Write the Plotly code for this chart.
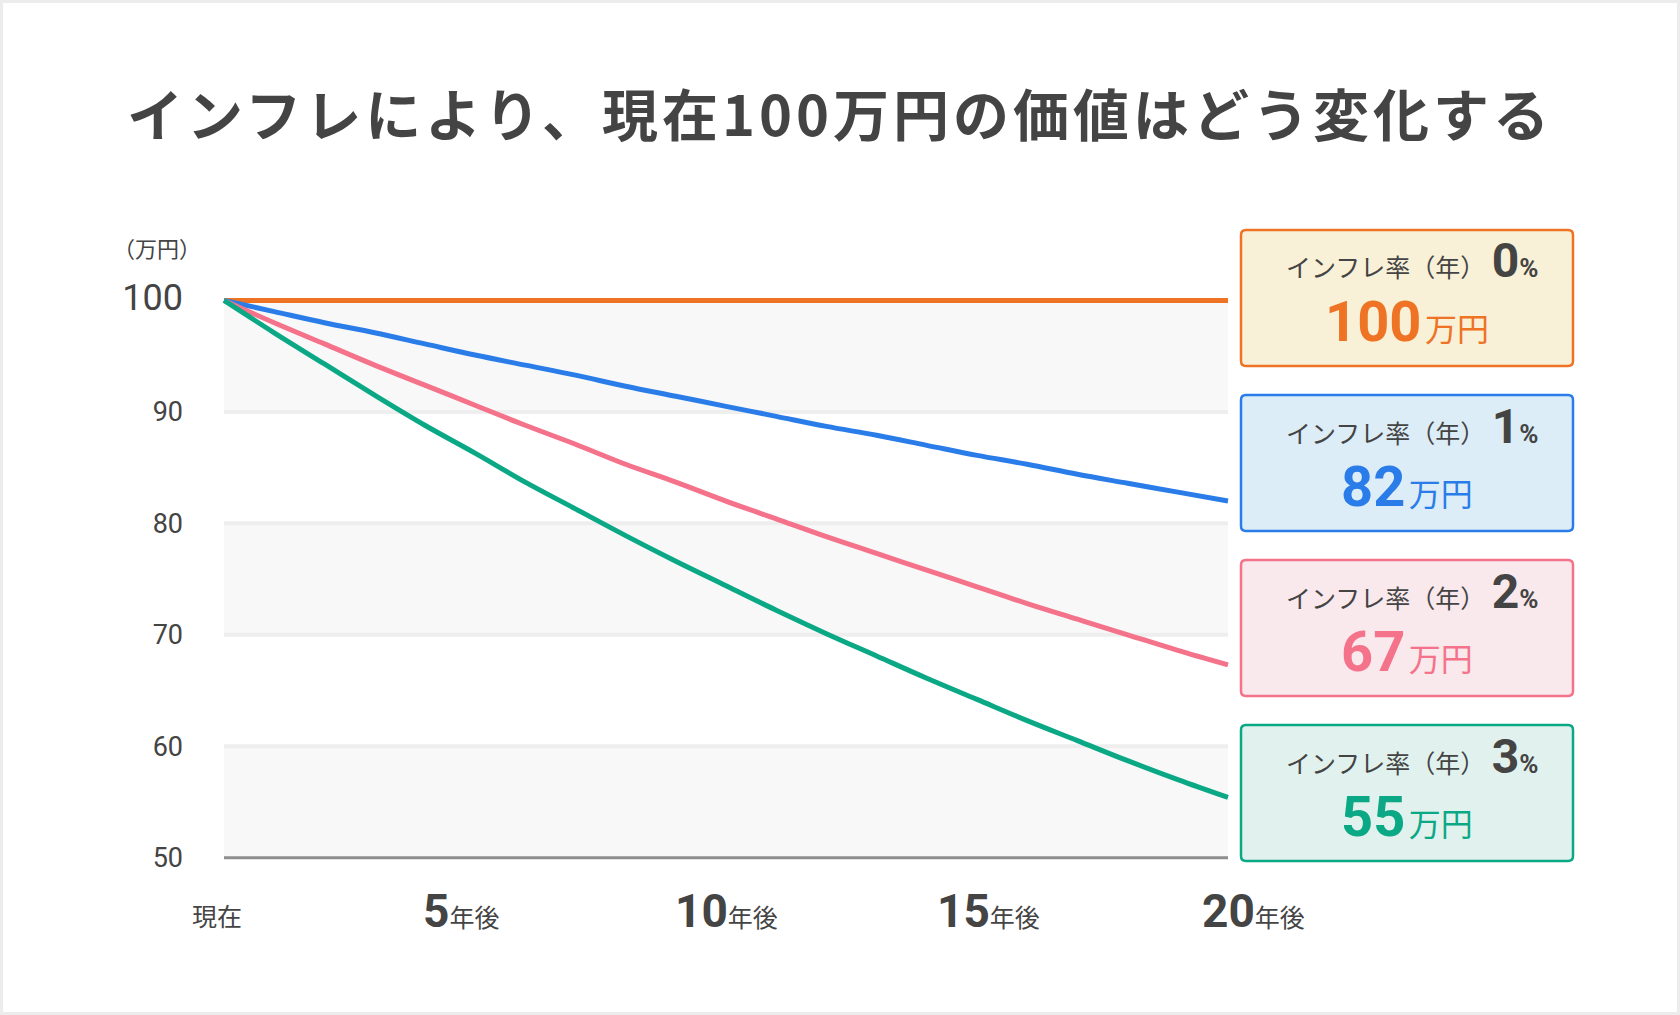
import plotly.graph_objects as go

W, H = 1680, 1015
ML, MR, MT, MB = 219, 447, 296, 154

TEXT = "#444444"
JP = "Noto Sans CJK JP"
NUM = "Roboto, sans-serif"

years = [0, 1, 2, 3, 4, 5, 6, 7, 8, 9, 10, 11, 12, 13, 14, 15, 16, 17, 18, 19, 20]
rate0 = [100.0, 100.0, 100.0, 100.0, 100.0, 100.0, 100.0, 100.0, 100.0, 100.0, 100.0,
         100.0, 100.0, 100.0, 100.0, 100.0, 100.0, 100.0, 100.0, 100.0, 100.0]
rate1 = [100.0, 99.0, 98.0, 97.1, 96.1, 95.1, 94.2, 93.3, 92.3, 91.4, 90.5,
         89.6, 88.7, 87.9, 87.0, 86.1, 85.3, 84.4, 83.6, 82.8, 82.0]
rate2 = [100.0, 98.0, 96.1, 94.2, 92.4, 90.6, 88.8, 87.1, 85.3, 83.7, 82.0,
         80.4, 78.8, 77.3, 75.8, 74.3, 72.8, 71.4, 70.0, 68.6, 67.3]
rate3 = [100.0, 97.1, 94.3, 91.5, 88.8, 86.3, 83.7, 81.3, 78.9, 76.6, 74.4,
         72.2, 70.1, 68.1, 66.1, 64.2, 62.3, 60.5, 58.7, 57.0, 55.4]

rate_labels = ["0", "1", "2", "3"]
value_labels = ["100", "82", "67", "55"]
y_ticks = [50, 60, 70, 80, 90, 100]
x_ticks = [0, 5, 10, 15, 20]
x_tick_nums = ["", "5", "10", "15", "20"]

line_colors = ["#ee7324", "#2a7de8", "#f4728a", "#0aa885"]
box_fills = ["#f9f1d7", "#dcedf8", "#f9e8ec", "#e1f2ee"]
x_shifts = [-7, -14, 0, 12, 26]


def px_x(p):
    return (p - ML) / (W - ML - MR)


def px_y(p):
    return (H - MB - p) / (H - MT - MB)


def span(s, size, color=TEXT, bold=False, family=NUM, extra=""):
    w = "bold" if bold else "normal"
    return (f"<span style='font-family:{family}; font-size:{size}px; "
            f"font-weight:{w}; fill:{color};{extra}'>{s}</span>")


def round_box(x0, y0, x1, y1, r=5):
    # rounded rectangle path in paper coords, corners given in pixels
    pts = [
        f"M {px_x(x0 + r)} {px_y(y0)}",
        f"L {px_x(x1 - r)} {px_y(y0)}",
        f"Q {px_x(x1)} {px_y(y0)} {px_x(x1)} {px_y(y0 + r)}",
        f"L {px_x(x1)} {px_y(y1 - r)}",
        f"Q {px_x(x1)} {px_y(y1)} {px_x(x1 - r)} {px_y(y1)}",
        f"L {px_x(x0 + r)} {px_y(y1)}",
        f"Q {px_x(x0)} {px_y(y1)} {px_x(x0)} {px_y(y1 - r)}",
        f"L {px_x(x0)} {px_y(y0 + r)}",
        f"Q {px_x(x0)} {px_y(y0)} {px_x(x0 + r)} {px_y(y0)}",
        "Z",
    ]
    return " ".join(pts)


fig = go.Figure()

for vals, col in zip([rate0, rate1, rate2, rate3], line_colors):
    fig.add_trace(go.Scatter(
        x=years, y=vals, mode="lines",
        line=dict(color=col, width=5, shape="spline"),
        hoverinfo="skip", showlegend=False,
    ))

shapes = []
# outer frame
shapes.append(dict(type="rect", xref="paper", yref="paper",
                   x0=px_x(0), x1=px_x(W), y0=px_y(H), y1=px_y(0),
                   line=dict(color="#ececec", width=6), fillcolor="rgba(0,0,0,0)",
                   layer="below"))
# alternating bands
for lo in y_ticks[0::2]:
    shapes.append(dict(type="rect", xref="x", yref="y", x0=x_ticks[0], x1=x_ticks[-1],
                       y0=lo, y1=lo + 10, fillcolor="#f8f8f8", line=dict(width=0),
                       layer="below"))
for yv in y_ticks[1:-1]:
    shapes.append(dict(type="line", xref="x", yref="y", x0=x_ticks[0], x1=x_ticks[-1],
                       y0=yv, y1=yv, line=dict(color="#eeeeee", width=4), layer="below"))
shapes.append(dict(type="line", xref="x", yref="y", x0=x_ticks[0], x1=x_ticks[-1],
                   y0=y_ticks[0], y1=y_ticks[0], line=dict(color="#8e8e8e", width=3),
                   layer="below"))

annotations = []
# legend boxes
box_x0, box_x1 = 1241, 1573
for i, (rl, vl, col, fill) in enumerate(zip(rate_labels, value_labels, line_colors, box_fills)):
    top = 230 + i * 165
    shapes.append(dict(type="path", xref="paper", yref="paper",
                       path=round_box(box_x0, top, box_x1, top + 136),
                       fillcolor=fill, line=dict(color=col, width=2.5)))
    cx = px_x((box_x0 + box_x1) / 2)
    line1 = (span("インフレ率（年）", 25, family=JP) + span(" ", 26)
             + span(rl, 48, bold=True) + span("%", 26, bold=True))
    annotations.append(dict(xref="paper", yref="paper", x=cx + px_x(5) - px_x(0),
                            y=px_y(top + 31), text=line1, showarrow=False,
                            xanchor="center", yanchor="middle",
                            font=dict(family=JP, size=25, color=TEXT)))
    line2 = (span(vl, 56, color=col, bold=True) + span(" ", 14)
             + span("万円", 32, color=col, family=JP))
    annotations.append(dict(xref="paper", yref="paper", x=cx, y=px_y(top + 92),
                            text=line2, showarrow=False, xanchor="center", yanchor="middle",
                            font=dict(family=JP, size=32, color=col)))

# x tick labels
for xv, num, sh in zip(x_ticks, x_tick_nums, x_shifts):
    if num:
        txt = span(num, 46, bold=True) + span("年後", 25, family=JP)
        ys = 0
    else:
        txt = span("現在", 25, family=JP)
        ys = -4
    annotations.append(dict(xref="x", yref="paper", x=xv, y=px_y(911), xshift=sh,
                            yshift=ys, text=txt, showarrow=False,
                            xanchor="center", yanchor="middle",
                            font=dict(family=JP, size=25, color=TEXT)))

# y unit
annotations.append(dict(xref="paper", yref="paper", x=px_x(157), y=px_y(247),
                        text="（万円）", showarrow=False, xanchor="center", yanchor="middle",
                        font=dict(family=JP, size=22, color=TEXT)))

y_text = [span(str(v), 36 if v == 100 else 27) for v in y_ticks]

title_text = span("インフレにより、現在100万円の価値はどう変化する", 56, bold=True,
                  family=JP, extra=" letter-spacing:4px")

fig.update_layout(
    width=W, height=H,
    margin=dict(l=ML, r=MR, t=MT, b=MB),
    paper_bgcolor="white", plot_bgcolor="white",
    title=dict(text=title_text,
               x=0.5, xref="container", xanchor="center",
               y=1 - 116 / H, yref="container", yanchor="middle",
               font=dict(family=JP, size=56, color=TEXT, weight=700)),
    xaxis=dict(range=[-0.1, 20.1], showgrid=False, zeroline=False,
               showticklabels=False, ticks=""),
    yaxis=dict(range=[49.7, 100.4], showgrid=False, zeroline=False,
               tickvals=y_ticks, ticktext=y_text, ticks="", ticklabelstandoff=35,
               tickfont=dict(family="Roboto", size=27, color=TEXT)),
    shapes=shapes,
    annotations=annotations,
)

fig.write_html("out.html", config={"displayModeBar": False},
               post_script="document.body.style.margin='0';")
